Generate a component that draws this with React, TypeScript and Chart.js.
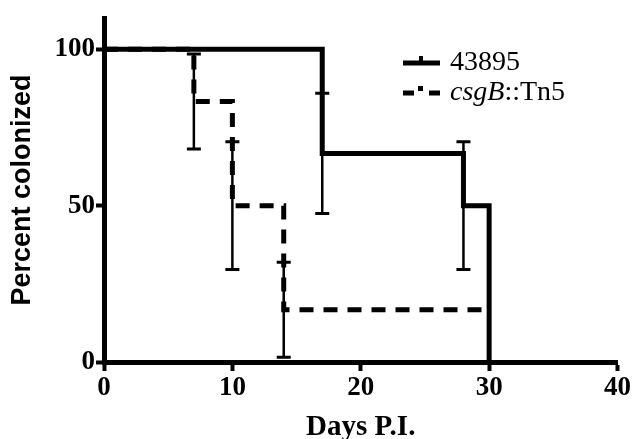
import React, { useEffect, useRef } from "react";
import { Chart, registerables } from "chart.js";

Chart.register(...registerables);

// ---- data ----
const wtDays = [0, 17, 28, 30];
const wtPct = [100, 66.7, 50, 0];
const mutDays = [0, 7, 10, 14, 30];
const mutPct = [100, 83.3, 50, 16.7, 16.7];

// error bars (day, low, high)
const wtErrDays = [17, 28];
const wtErrLow = [47.5, 29.6];
const wtErrHigh = [85.9, 70.4];
const mutErrDays = [7, 10, 14];
const mutErrLow = [68.1, 29.6, 1.5];
const mutErrHigh = [98.5, 70.4, 31.9];

const xTicks = [0, 10, 20, 30, 40];
const yTicks = [0, 50, 100];

const legendLabels = ["43895", "csgB::Tn5"];

const SERIF = "'Liberation Serif', 'DejaVu Serif', serif";
const SANS = "'Liberation Sans', Arial, sans-serif";

const errorBarPlugin = {
  id: "errorBars",
  afterDatasetsDraw(chart: any) {
    const { ctx, scales } = chart;
    const xs = scales.x;
    const ys = scales.y;
    const draw = (days: number[], lo: number[], hi: number[]) => {
      ctx.save();
      ctx.strokeStyle = "#000";
      days.forEach((d, i) => {
        const px = xs.getPixelForValue(d);
        const pl = ys.getPixelForValue(lo[i]);
        const ph = ys.getPixelForValue(hi[i]);
        ctx.lineWidth = 2.5;
        ctx.beginPath();
        ctx.moveTo(px, pl);
        ctx.lineTo(px, ph);
        ctx.stroke();
        ctx.lineWidth = 3;
        ctx.beginPath();
        ctx.moveTo(px - 7, pl);
        ctx.lineTo(px + 7, pl);
        ctx.moveTo(px - 7, ph);
        ctx.lineTo(px + 7, ph);
        ctx.stroke();
      });
      ctx.restore();
    };
    draw(mutErrDays, mutErrLow, mutErrHigh);
    draw(wtErrDays, wtErrLow, wtErrHigh);
  },
};

const legendPlugin = {
  id: "customLegend",
  afterDraw(chart: any) {
    const { ctx } = chart;
    ctx.save();
    ctx.fillStyle = "#000";
    const x0 = 403;
    const x1 = 440;
    const y1 = 63;
    const y2 = 93;
    // solid sample
    ctx.fillRect(x0, y1 - 2.5, x1 - x0, 5);
    ctx.fillRect(419, y1 - 7, 4, 5);
    // dashed sample
    ctx.fillRect(x0, y2 - 2.5, 11, 5);
    ctx.fillRect(429, y2 - 2.5, 11, 5);
    ctx.fillRect(418, y2 - 7, 5, 5);
    ctx.textBaseline = "middle";
    ctx.textAlign = "left";
    ctx.font = `28px ${SERIF}`;
    ctx.fillText(legendLabels[0], 450, y1);
    ctx.font = `italic 28px ${SERIF}`;
    const it = "csgB";
    ctx.fillText(it, 450, y2);
    const w = ctx.measureText(it).width;
    ctx.font = `28px ${SERIF}`;
    ctx.fillText(legendLabels[1].slice(it.length), 450 + w, y2);
    ctx.restore();
  },
};

export default function App() {
  const ref = useRef<HTMLCanvasElement>(null);
  useEffect(() => {
    document.body.style.margin = "0";
    const canvas = ref.current!;
    const chart = new Chart(canvas, {
      type: "line",
      data: {
        datasets: [
          {
            label: legendLabels[0],
            data: wtDays.map((d, i) => ({ x: d, y: wtPct[i] })),
            borderColor: "#000",
            borderWidth: 5,
            stepped: true,
            pointRadius: 0,
            fill: false,
          },
          {
            label: legendLabels[1],
            data: mutDays.map((d, i) => ({ x: d, y: mutPct[i] })),
            borderColor: "#000",
            borderWidth: 5,
            borderDash: [14, 10],
            stepped: true,
            pointRadius: 0,
            fill: false,
          },
        ],
      },
      options: {
        animation: false,
        responsive: false,
        devicePixelRatio: 1,
        layout: { padding: { top: 18, right: 13, left: 0, bottom: 0 } },
        plugins: {
          legend: { display: false },
          tooltip: { enabled: false },
        },
        scales: {
          x: {
            type: "linear",
            min: 0,
            max: 40,
            afterBuildTicks: (s: any) => {
              s.ticks = xTicks.map((v) => ({ value: v }));
            },
            afterFit: (s: any) => {
              s.height = 77;
            },
            ticks: {
              color: "#000",
              font: { family: SERIF, size: 27, weight: "bold" },
              padding: 1,
              maxRotation: 0,
            },
            grid: {
              drawOnChartArea: false,
              drawTicks: true,
              tickLength: 9,
              tickWidth: 4,
              color: "#000",
            },
            border: { width: 5, color: "#000" },
            title: {
              display: true,
              text: "Days P.I.",
              color: "#000",
              font: { family: SERIF, size: 29, weight: "bold", lineHeight: 0.6 },
              padding: { top: 0, bottom: 3 },
            },
          },
          y: {
            type: "linear",
            min: 0,
            max: 110,
            afterBuildTicks: (s: any) => {
              s.ticks = yTicks.map((v) => ({ value: v }));
            },
            afterFit: (s: any) => {
              s.width = 104;
            },
            ticks: {
              color: "#000",
              font: { family: SERIF, size: 27, weight: "bold" },
              padding: 1,
            },
            grid: {
              drawOnChartArea: false,
              drawTicks: true,
              tickLength: 8,
              tickWidth: 4,
              color: "#000",
            },
            border: { width: 5, color: "#000" },
            title: {
              display: true,
              text: "Percent colonized",
              color: "#000",
              font: { family: SANS, size: 27, weight: "bold" },
              padding: { top: 6, bottom: 0 },
            },
          },
        },
      },
      plugins: [errorBarPlugin, legendPlugin],
    } as any);
    return () => chart.destroy();
  }, []);
  return (
    <div style={{ width: 632, height: 439 }}>
      <canvas ref={ref} width={632} height={439} style={{ display: "block" }} />
    </div>
  );
}
